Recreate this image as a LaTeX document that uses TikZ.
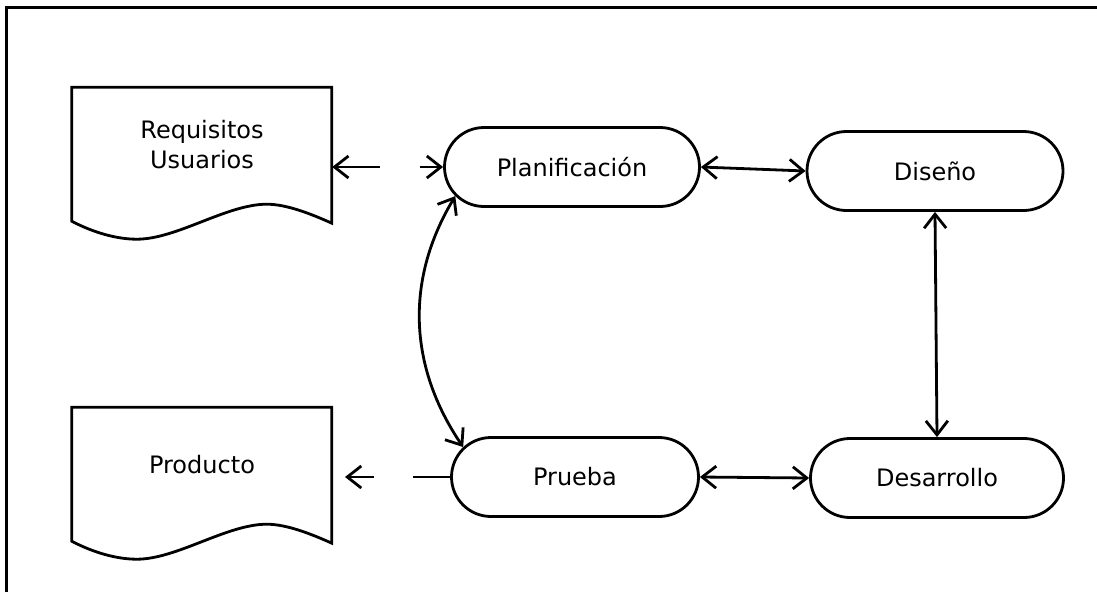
\documentclass[tikz,border=0pt]{standalone}
\usepackage{fontspec}
\setmainfont{DejaVu Sans}
\usetikzlibrary{arrows.meta,shapes.misc,calc}

\begin{document}
\begin{tikzpicture}[
    x=1pt, y=-1pt,
    >={Straight Barb[length=14pt,width=22pt]},
    proc/.style={rounded rectangle, draw, line width=2.8pt, minimum width=255pt, minimum height=79pt, inner sep=0pt, font=\fontsize{24}{30}\selectfont},
    doc/.style={minimum width=260pt, minimum height=134pt, inner sep=0pt},
    doctext/.style={font=\fontsize{24}{30}\selectfont, align=center, yshift=9.5pt},
    docline/.style={line width=2.8pt, line join=miter},
    conn/.style={line width=2.8pt}
  ]
    \useasboundingbox (0,0) rectangle (1097,592);
    \draw[line width=3.5pt] (6.5,592) -- (6.5,7.5) -- (1097,7.5);

    % Documentos
    \node[doc, label={[doctext]center:Requisitos\\Usuarios}] (req) at (202,154) {};
    \node[doc, label={[doctext]center:Producto}] (prod) at (202,474) {};
    \foreach \d in {req,prod}
      \draw[docline, shift={(\d.south west)}] (0,0) -- (0,-134) -- (260,-134) -- (260,2)
        .. controls (240,-7) and (215,-17) .. (195,-17)
        .. controls (155,-17) and (105,18) .. (65,18)
        .. controls (40,18) and (15,8) .. cycle;

    % Etapas
    \node[proc] (planif) at (572,167) {Planificación};
    \node[proc, minimum width=256pt] (diseno) at (935,171) {Diseño};
    \node[proc, minimum width=247pt] (prueba) at (575,477) {Prueba};
    \node[proc, minimum width=253pt] (desarr) at (937,478) {Desarrollo};

    % Conectores
    \coordinate (rq) at (380,167);
    \coordinate (pl) at (420,167);
    \coordinate (pr) at (413,477);
    \coordinate (pa) at (374,477);
    \coordinate (pb) at (345,477);
    \draw[conn, ->] (rq) -- (req.east |- rq);
    \draw[conn, ->] (pl) -- (planif.west);
    \draw[conn, <->] (planif.east) -- (diseno.west);
    \draw[conn, <->] (diseno.south) -- (desarr.north);
    \draw[conn, <->] (prueba.east) -- (desarr.west);
    \draw[conn, <->] (planif.194) .. controls +(-50,83) and +(-55,-81) .. (prueba.165);
    \draw[conn] (prueba.west) -- (pr);
    \draw[conn, ->] (pa) -- (pb);
\end{tikzpicture}
\end{document}
